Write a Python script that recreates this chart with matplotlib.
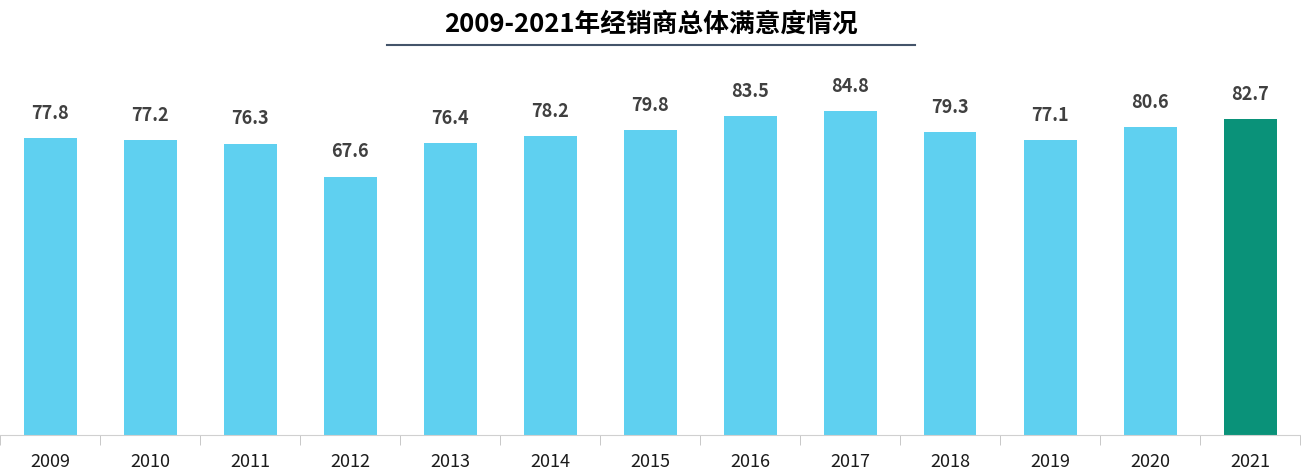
import numpy as np
import matplotlib.pyplot as plt

plt.rcParams['font.family'] = ['Noto Sans CJK SC', 'DejaVu Sans']

years = ["2009", "2010", "2011", "2012", "2013", "2014", "2015",
         "2016", "2017", "2018", "2019", "2020", "2021"]
scores = [77.8, 77.2, 76.3, 67.6, 76.4, 78.2, 79.8, 83.5, 84.8, 79.3, 77.1, 80.6, 82.7]

blue = "#5FD0F0"
green = "#0A9279"
colors = [blue] * (len(years) - 1) + [green]

fig = plt.figure(figsize=(13.01, 4.74), dpi=100)
ax = fig.add_axes([0, 39 / 474, 1300 / 1301, (435 - 53) / 474])

x = np.arange(len(years))
ax.bar(x, scores, width=0.53, color=colors, zorder=2)

for xi, v in zip(x, scores):
    ax.annotate(f"{v:.1f}", (xi, v), xytext=(0, 11), textcoords="offset points",
                ha="center", va="bottom", fontsize=13, fontweight="bold",
                color="#404040")

ax.set_xlim(-0.5, len(years) - 0.5)
ax.set_ylim(0, 100)
ax.set_yticks([])
ax.set_xticks(x)
ax.set_xticklabels(years, fontsize=13, color="#1a1a1a")
ax.set_xticks(np.arange(-0.5, len(years)), minor=True)
ax.tick_params(axis="x", which="major", length=0, pad=13)
ax.tick_params(axis="x", which="minor", length=7, color="#bfbfbf")
for s in ["top", "right", "left"]:
    ax.spines[s].set_visible(False)
ax.spines["bottom"].set_color("#d0d0d0")

fig.text(0.5, 1 - 24 / 474, "2009-2021年经销商总体满意度情况", ha="center", va="center",
         fontsize=18.5, fontweight="bold", color="black")
fig.add_artist(plt.Line2D([387 / 1301, 915 / 1301], [1 - 45 / 474, 1 - 45 / 474],
                          color="#44546A", lw=1.5))

fig.savefig("out.png", dpi=100)
